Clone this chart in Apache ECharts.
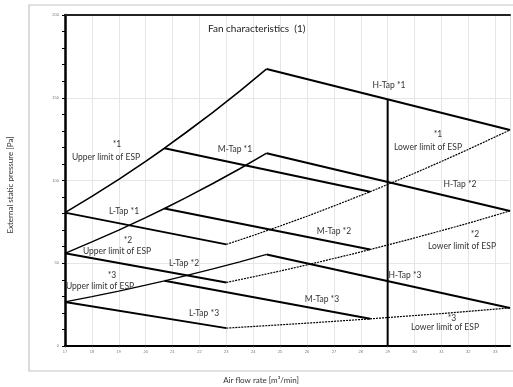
<!DOCTYPE html>
<html><head><meta charset="utf-8">
<script src="https://cdn.jsdelivr.net/npm/echarts@6/dist/echarts.min.js"></script>
<style>html,body{margin:0;padding:0;background:#fff;}#c{width:513px;height:387px;}</style>
</head><body><div id="c"></div>
<script>
// ---- data ----
const upperX = [17, 18, 19, 20, 20.7, 21.5, 22.5, 23.5, 24.5];
const upper1 = [80.6, 90.4, 100.7, 111.6, 119.5, 129, 141.2, 154, 167.4];
const upper2 = [56, 62.9, 70, 77.6, 83.1, 89.7, 98.2, 107.1, 116.5];
const upper3 = [26.6, 29.8, 33.2, 36.8, 39.4, 42.5, 46.6, 50.8, 55.3];

const lowerX = [23, 24, 25, 26, 27, 28, 28.35, 29, 30, 31, 32, 33.55];
const lower1 = [61.4, 66.8, 72.5, 78.4, 84.6, 91, 93.2, 97.6, 104.4, 111.5, 118.8, 130.5];
const lower2 = [38.4, 41.8, 45.3, 49, 52.9, 56.8, 58.3, 61, 65.3, 69.7, 74.2, 81.6];
const lower3 = [10.8, 11.8, 12.8, 13.8, 14.9, 16, 16.4, 17.2, 18.4, 19.6, 20.9, 23];

const lTapX = [17, 23];
const lTap1 = [80.6, 61.4], lTap2 = [56, 38.4], lTap3 = [26.6, 10.8];
const mTapX = [20.7, 28.35];
const mTap1 = [119.5, 93.2], mTap2 = [83.1, 58.3], mTap3 = [39.4, 16.4];
const hTapX = [24.5, 33.55];
const hTap1 = [167.4, 130.5], hTap2 = [116.5, 81.6], hTap3 = [55.3, 23];

const markerX = [29, 29];
const markerY = [0, 149];

const xTicks = [17,18,19,20,21,22,23,24,25,26,27,28,29,30,31,32,33];
const yTickLabels = [0, 50, 100, 150, 200];

const pair = (xs, ys) => xs.map((x, i) => [x, ys[i]]);

const FONT = 'Lato';
const chart = echarts.init(document.getElementById('c'));

function line(xs, ys, width, type) {
  return {
    type: 'line', data: pair(xs, ys), symbol: 'none', silent: true,
    lineStyle: { color: '#000', width: width, type: type || 'solid' },
    z: 3
  };
}

function txt(x, y, s, size) {
  return { type: 'text', x: x, y: y, z: 10,
    style: { text: s, fill: '#333', font: (size || 8.5) + 'px ' + FONT, textAlign: 'center', textVerticalAlign: 'middle' } };
}

chart.setOption({
  animation: false,
  backgroundColor: '#fff',
  grid: { left: 65, top: 15, right: 3, bottom: 41, containLabel: false },
  xAxis: [{
    type: 'value', min: 17, max: 33.55, interval: 1,
    axisLine: { show: true, onZero: false, lineStyle: { color: '#000', width: 2 } },
    axisTick: { show: true, length: 2, lineStyle: { color: '#888', width: 0.5 } },
    axisLabel: { fontSize: 4, color: '#777', margin: 4, showMaxLabel: false,
      formatter: v => xTicks.includes(v) ? String(v) : '' },
    splitLine: { show: true, lineStyle: { color: '#e6e6e6', width: 1 } }
  }, {
    type: 'value', position: 'top', min: 17, max: 33.55,
    axisLine: { show: true, onZero: false, lineStyle: { color: '#222', width: 2 } },
    axisTick: { show: false }, axisLabel: { show: false }, splitLine: { show: false }
  }],
  yAxis: [{
    type: 'value', position: 'left', min: 0, max: 200, interval: 10,
    axisLine: { show: true, onZero: false, lineStyle: { color: '#000', width: 2.5 } },
    axisTick: { show: true, length: 3, lineStyle: { color: '#000', width: 1 } },
    axisLabel: { fontSize: 4, color: '#777', margin: 6,
      formatter: v => yTickLabels.includes(v) ? String(v) : '' },
    splitLine: { show: false }
  }, {
    type: 'value', position: 'right', min: 0, max: 200, interval: 50,
    axisLine: { show: true, onZero: false, lineStyle: { color: '#ddd', width: 1 } },
    axisTick: { show: false }, axisLabel: { show: false },
    splitLine: { show: true, lineStyle: { color: '#e6e6e6', width: 1 } }
  }],
  series: [
    line(upperX, upper1, 1.6), line(upperX, upper2, 1.5), line(upperX, upper3, 1.3),
    line(lowerX, lower1, 1.2, [2, 1]), line(lowerX, lower2, 1.2, [2, 1]), line(lowerX, lower3, 1.2, [2, 1]),
    line(lTapX, lTap1, 2), line(lTapX, lTap2, 2), line(lTapX, lTap3, 2),
    line(mTapX, mTap1, 2), line(mTapX, mTap2, 2), line(mTapX, mTap3, 2),
    line(hTapX, hTap1, 2), line(hTapX, hTap2, 2), line(hTapX, hTap3, 2),
    line(markerX, markerY, 2)
  ],
  graphic: [
    { type: 'rect', shape: { x: 29, y: 5, width: 500, height: 366 },
      style: { fill: 'none', stroke: '#c4c4c4', lineWidth: 1.2 }, z: 0, silent: true },
    { type: 'text', x: 208, y: 29, z: 10,
      style: { text: 'Fan characteristics  (1)', fill: '#222', font: '10px ' + FONT, textVerticalAlign: 'middle' } },
    txt(389, 85, 'H-Tap *1'),
    txt(117, 144, '*1'), txt(106, 157, 'Upper limit of ESP'),
    txt(235, 149, 'M-Tap *1'),
    txt(124, 211, 'L-Tap *1'),
    txt(438, 134, '*1'), txt(428, 147, 'Lower limit of ESP'),
    txt(460, 184, 'H-Tap *2'),
    txt(334, 231, 'M-Tap *2'),
    txt(475, 234, '*2'), txt(462, 246, 'Lower limit of ESP'),
    txt(128, 240, '*2'), txt(117, 251, 'Upper limit of ESP'),
    txt(184, 263, 'L-Tap *2'),
    txt(112, 275, '*3'), txt(100, 286, 'Upper limit of ESP'),
    txt(204, 313, 'L-Tap *3'),
    txt(405, 275, 'H-Tap *3'),
    txt(322, 299, 'M-Tap *3'),
    txt(452, 318, '*3'), txt(445, 327, 'Lower limit of ESP'),
    txt(261, 380, 'Air flow rate [m\u00B3/min]', 8),
    { type: 'text', x: 10, y: 185, rotation: Math.PI / 2, z: 10,
      style: { text: 'External static pressure [Pa]', fill: '#333', font: '8px ' + FONT, textAlign: 'center', textVerticalAlign: 'middle' } }
  ]
});
</script></body></html>
